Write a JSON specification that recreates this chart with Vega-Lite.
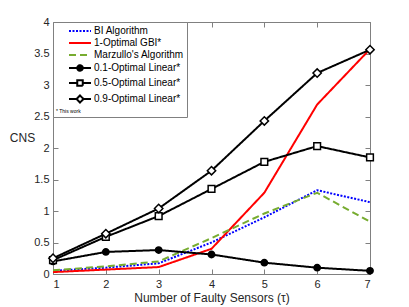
{
  "$schema": "https://vega.github.io/schema/vega-lite/v6.json",
  "width": 317,
  "height": 252,
  "autosize": "none",
  "padding": {"left": 53, "top": 22, "right": 39, "bottom": 33},
  "background": "white",
  "config": {
    "font": "Liberation Sans",
    "view": {"stroke": "#808080"},
    "axis": {
      "grid": false,
      "domainColor": "#808080",
      "tickColor": "#808080",
      "tickSize": -5,
      "labelFont": "Liberation Sans",
      "labelFontSize": 11,
      "labelColor": "#262626",
      "titleFont": "Liberation Sans",
      "titleFontSize": 12,
      "titleFontWeight": "normal",
      "titleColor": "#262626"
    }
  },
  "data": {
    "values": [
      {"series": "BI Algorithm", "tau": 1, "cns": 0.05},
      {"series": "BI Algorithm", "tau": 2, "cns": 0.10},
      {"series": "BI Algorithm", "tau": 3, "cns": 0.17},
      {"series": "BI Algorithm", "tau": 4, "cns": 0.50},
      {"series": "BI Algorithm", "tau": 5, "cns": 0.90},
      {"series": "BI Algorithm", "tau": 6, "cns": 1.33},
      {"series": "BI Algorithm", "tau": 7, "cns": 1.14},
      {"series": "1-Optimal GBI*", "tau": 1, "cns": 0.03},
      {"series": "1-Optimal GBI*", "tau": 2, "cns": 0.07},
      {"series": "1-Optimal GBI*", "tau": 3, "cns": 0.11},
      {"series": "1-Optimal GBI*", "tau": 4, "cns": 0.40},
      {"series": "1-Optimal GBI*", "tau": 5, "cns": 1.29},
      {"series": "1-Optimal GBI*", "tau": 6, "cns": 2.69},
      {"series": "1-Optimal GBI*", "tau": 7, "cns": 3.57},
      {"series": "Marzullo's Algorithm", "tau": 1, "cns": 0.06},
      {"series": "Marzullo's Algorithm", "tau": 2, "cns": 0.12},
      {"series": "Marzullo's Algorithm", "tau": 3, "cns": 0.20},
      {"series": "Marzullo's Algorithm", "tau": 4, "cns": 0.57},
      {"series": "Marzullo's Algorithm", "tau": 5, "cns": 0.96},
      {"series": "Marzullo's Algorithm", "tau": 6, "cns": 1.29},
      {"series": "Marzullo's Algorithm", "tau": 7, "cns": 0.83},
      {"series": "0.1-Optimal Linear*", "tau": 1, "cns": 0.20},
      {"series": "0.1-Optimal Linear*", "tau": 2, "cns": 0.35},
      {"series": "0.1-Optimal Linear*", "tau": 3, "cns": 0.38},
      {"series": "0.1-Optimal Linear*", "tau": 4, "cns": 0.31},
      {"series": "0.1-Optimal Linear*", "tau": 5, "cns": 0.18},
      {"series": "0.1-Optimal Linear*", "tau": 6, "cns": 0.10},
      {"series": "0.1-Optimal Linear*", "tau": 7, "cns": 0.05},
      {"series": "0.5-Optimal Linear*", "tau": 1, "cns": 0.22},
      {"series": "0.5-Optimal Linear*", "tau": 2, "cns": 0.59},
      {"series": "0.5-Optimal Linear*", "tau": 3, "cns": 0.92},
      {"series": "0.5-Optimal Linear*", "tau": 4, "cns": 1.35},
      {"series": "0.5-Optimal Linear*", "tau": 5, "cns": 1.78},
      {"series": "0.5-Optimal Linear*", "tau": 6, "cns": 2.03},
      {"series": "0.5-Optimal Linear*", "tau": 7, "cns": 1.85},
      {"series": "0.9-Optimal Linear*", "tau": 1, "cns": 0.25},
      {"series": "0.9-Optimal Linear*", "tau": 2, "cns": 0.64},
      {"series": "0.9-Optimal Linear*", "tau": 3, "cns": 1.04},
      {"series": "0.9-Optimal Linear*", "tau": 4, "cns": 1.64},
      {"series": "0.9-Optimal Linear*", "tau": 5, "cns": 2.43},
      {"series": "0.9-Optimal Linear*", "tau": 6, "cns": 3.19},
      {"series": "0.9-Optimal Linear*", "tau": 7, "cns": 3.56}
    ]
  },
  "resolve": {"axis": {"x": "independent", "y": "independent"}},
  "layer": [
    {
      "mark": {"type": "line", "strokeWidth": 2},
      "encoding": {
        "x": {
          "field": "tau", "type": "quantitative",
          "scale": {"domain": [1, 7], "nice": false, "zero": false},
          "axis": {"values": [1, 2, 3, 4, 5, 6, 7], "title": "Number of Faulty Sensors (τ)", "labelPadding": 9, "titlePadding": 3}
        },
        "y": {
          "field": "cns", "type": "quantitative",
          "scale": {"domain": [0, 4], "nice": false},
          "axis": {"values": [0, 0.5, 1, 1.5, 2, 2.5, 3, 3.5, 4], "format": "~g", "title": "CNS", "titleAngle": 0, "titleAlign": "center", "titleBaseline": "middle", "titleX": -31, "titleY": 115, "labelPadding": 9}
        },
        "color": {
          "field": "series", "type": "nominal",
          "scale": {
            "domain": ["BI Algorithm", "1-Optimal GBI*", "Marzullo's Algorithm", "0.1-Optimal Linear*", "0.5-Optimal Linear*", "0.9-Optimal Linear*"],
            "range": ["#0000ff", "#ff0000", "#77ac30", "#000000", "#000000", "#000000"]
          },
          "legend": {
            "orient": "top-left",
            "offset": 0,
            "title": "* This work",
            "titleOrient": "bottom",
            "titleAnchor": "start",
            "titleFontSize": 5,
            "titleFontWeight": "normal",
            "titlePadding": 2,
            "titleColor": "#000000",
            "strokeColor": "#808080",
            "fillColor": "white",
            "padding": 3,
            "labelFont": "Liberation Sans",
            "labelFontSize": 10,
            "labelColor": "#000000",
            "labelOffset": 26,
            "symbolSize": 100,
            "symbolStrokeWidth": 2,
            "rowPadding": 1,
            "encode": {
              "symbols": {
                "update": {
                  "shape": {"signal": "datum.value === '0.1-Optimal Linear*' ? 'M1.4,0H5.8M4.15,0A0.55,0.55,0,1,1,3.05,0A0.55,0.55,0,1,1,4.15,0' : datum.value === '0.5-Optimal Linear*' ? 'M1.4,0H3.05M4.15,0H5.8M3.05,-0.55H4.15V0.55H3.05Z' : datum.value === '0.9-Optimal Linear*' ? 'M1.4,0H2.9M4.3,0H5.8M3.6,-0.7L4.3,0L3.6,0.7L2.9,0Z' : 'M1.4,0H5.8'"},
                  "fill": {"signal": "datum.value === '0.1-Optimal Linear*' ? 'black' : 'white'"},
                  "size": {"value": 100},
                  "strokeWidth": {"value": 2},
                  "opacity": {"value": 1}
                }
              }
            }
          }
        },
        "strokeDash": {
          "field": "series", "type": "nominal",
          "scale": {
            "domain": ["BI Algorithm", "1-Optimal GBI*", "Marzullo's Algorithm", "0.1-Optimal Linear*", "0.5-Optimal Linear*", "0.9-Optimal Linear*"],
            "range": [[2, 1.5], [1, 0], [7, 4], [1, 0], [1, 0], [1, 0]]
          }
        }
      }
    },
    {
      "transform": [{"filter": "indexof(datum.series, 'Linear') >= 0"}],
      "mark": {"type": "point", "stroke": "black", "strokeWidth": 1.5, "opacity": 1},
      "encoding": {
        "x": {
          "field": "tau", "type": "quantitative",
          "axis": {"orient": "top", "values": [1, 2, 3, 4, 5, 6, 7], "labels": false, "title": null}
        },
        "y": {
          "field": "cns", "type": "quantitative",
          "axis": {"orient": "right", "values": [0, 0.5, 1, 1.5, 2, 2.5, 3, 3.5, 4], "labels": false, "title": null}
        },
        "shape": {
          "condition": [
            {"test": "datum.series === '0.1-Optimal Linear*'", "value": "circle"},
            {"test": "datum.series === '0.5-Optimal Linear*'", "value": "square"}
          ],
          "value": "diamond"
        },
        "size": {
          "condition": [
            {"test": "datum.series === '0.1-Optimal Linear*'", "value": 40},
            {"test": "datum.series === '0.5-Optimal Linear*'", "value": 45}
          ],
          "value": 70
        },
        "fill": {
          "condition": {"test": "datum.series === '0.1-Optimal Linear*'", "value": "black"},
          "value": "white"
        }
      }
    }
  ]
}
